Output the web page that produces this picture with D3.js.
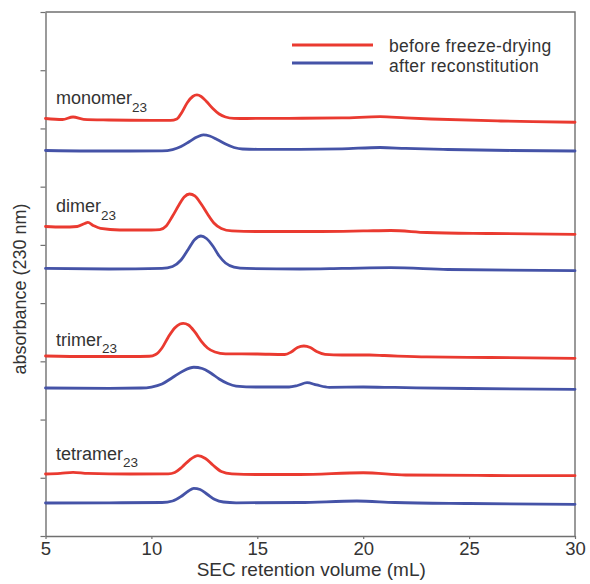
<!DOCTYPE html>
<html>
<head>
<meta charset="utf-8">
<script src="https://cdn.jsdelivr.net/npm/d3@7"></script>
<style>
  html, body { margin: 0; padding: 0; background: #fff; }
  svg { display: block; font-family: "Liberation Sans", Arial, Helvetica, sans-serif; }
</style>
</head>
<body>
<svg id="chart" width="590" height="584"></svg>
<script>
// SEC chromatograms (absorbance at 230 nm, traces offset vertically),
// each sample before freeze-drying and after reconstitution.
// Points are [retention volume (mL), absorbance offset (a.u.)].

const monomerBefore = [
  [5, 7.171], [5.8, 7.154], [6.3, 7.197], [6.8, 7.157], [8, 7.145], [10, 7.137],
  [10.9, 7.137], [11.2, 7.162], [11.45, 7.283], [11.7, 7.446], [11.95, 7.549],
  [12.15, 7.575], [12.35, 7.549], [12.6, 7.463], [12.9, 7.343], [13.2, 7.248],
  [13.5, 7.197], [13.9, 7.174], [14.5, 7.171], [16.5, 7.174], [19, 7.180],
  [20.8, 7.202], [22, 7.180], [23.2, 7.162], [26.5, 7.128], [28, 7.116], [30, 7.106]
];
const monomerAfter = [
  [5, 6.621], [7, 6.613], [9, 6.613], [10.5, 6.616], [11.0, 6.638], [11.4, 6.690],
  [11.8, 6.776], [12.15, 6.853], [12.45, 6.888], [12.75, 6.870], [13.1, 6.810],
  [13.5, 6.733], [13.9, 6.673], [14.3, 6.647], [15, 6.642], [17, 6.642],
  [19, 6.650], [20.8, 6.673], [22, 6.656], [24, 6.638], [27, 6.621], [30, 6.613]
];
const dimerBefore = [
  [5, 5.316], [5.8, 5.307], [6.5, 5.316], [6.85, 5.368], [7.0, 5.385], [7.25, 5.333],
  [7.6, 5.282], [8.5, 5.256], [10, 5.256], [10.4, 5.264], [10.7, 5.325], [11.0, 5.496],
  [11.3, 5.685], [11.55, 5.823], [11.8, 5.874], [12.05, 5.840], [12.35, 5.702],
  [12.65, 5.531], [12.95, 5.376], [13.3, 5.282], [13.8, 5.239], [15, 5.230],
  [18, 5.230], [20, 5.239], [21.3, 5.247], [23, 5.213], [26, 5.196], [30, 5.182]
];
const dimerAfter = [
  [5, 4.595], [8, 4.586], [10.5, 4.595], [11.0, 4.629], [11.4, 4.741], [11.75, 4.930],
  [12.05, 5.093], [12.34, 5.153], [12.6, 5.110], [12.9, 4.981], [13.2, 4.809],
  [13.5, 4.689], [13.9, 4.620], [14.5, 4.595], [17, 4.586], [19, 4.595],
  [21.3, 4.608], [24, 4.577], [30, 4.557]
];
const trimerBefore = [
  [5, 3.092], [7, 3.083], [9, 3.083], [9.9, 3.087], [10.2, 3.117], [10.5, 3.229],
  [10.8, 3.418], [11.1, 3.573], [11.35, 3.641], [11.5, 3.653], [11.75, 3.624],
  [12.05, 3.504], [12.35, 3.349], [12.65, 3.229], [13.0, 3.160], [13.5, 3.129],
  [15, 3.126], [16.3, 3.117], [16.6, 3.160], [16.9, 3.238], [17.2, 3.263],
  [17.5, 3.238], [17.8, 3.169], [18.2, 3.121], [19, 3.109], [20.3, 3.109],
  [21, 3.100], [23, 3.075], [26, 3.066], [30, 3.052]
];
const trimerAfter = [
  [5, 2.542], [8, 2.537], [9.5, 2.542], [10.0, 2.559], [10.5, 2.611], [11.0, 2.722],
  [11.5, 2.834], [12.0, 2.898], [12.4, 2.877], [12.8, 2.800], [13.2, 2.697],
  [13.6, 2.619], [14.0, 2.576], [15, 2.559], [16.5, 2.559], [16.9, 2.585],
  [17.35, 2.633], [17.8, 2.594], [18.4, 2.554], [20, 2.559], [21.5, 2.551],
  [25, 2.533], [30, 2.520]
];
const tetramerBefore = [
  [5, 1.065], [5.7, 1.074], [6.3, 1.094], [7, 1.074], [9, 1.065], [10.8, 1.068],
  [11.1, 1.091], [11.45, 1.185], [11.8, 1.305], [12.2, 1.379], [12.55, 1.331],
  [12.9, 1.219], [13.3, 1.108], [13.8, 1.068], [15, 1.056], [17, 1.056],
  [20, 1.086], [22, 1.048], [26, 1.039], [30, 1.036]
];
const tetramerAfter = [
  [5, 0.567], [8, 0.570], [10.5, 0.575], [11.0, 0.601], [11.4, 0.678], [11.75, 0.773],
  [12.0, 0.819], [12.3, 0.799], [12.65, 0.713], [13.0, 0.627], [13.4, 0.584],
  [14, 0.570], [17, 0.575], [19.7, 0.601], [21.5, 0.575], [25, 0.558], [30, 0.544]
];

const sampleNames = ["monomer", "dimer", "trimer", "tetramer"];
const sampleSubscript = "23";
const beforeTraces = [monomerBefore, dimerBefore, trimerBefore, tetramerBefore];
const afterTraces = [monomerAfter, dimerAfter, trimerAfter, tetramerAfter];
const legendLabels = ["before freeze-drying", "after reconstitution"];

const xTicks = [5, 10, 15, 20, 25, 30];
const yTicks = [0, 1, 2, 3, 4, 5, 6, 7, 8, 9];
const xTitle = "SEC retention volume (mL)";
const yTitle = "absorbance (230 nm)";

// ---- layout & style ----
const plot = { left: 45.5, right: 575, top: 12, bottom: 536 };
const RED = "#ea3a30", BLUE = "#4553a7";
const TEXT = "#333", AXIS = "#707070";
const FS = 18;
const LINE_W = 2.8;
// label baseline distance above the start of each "before" trace
const labelLift = [14, 14, 10, 14];

const svg = d3.select("#chart");

const x = d3.scaleLinear().domain([5, 30]).range([plot.left, plot.right]);
const y = d3.scaleLinear().domain([0, 9]).range([plot.bottom, plot.top]);

// frame: top and right edges
svg.append("path")
  .attr("d", `M${plot.left},${plot.top}H${plot.right}V${plot.bottom}`)
  .attr("fill", "none").attr("stroke", AXIS).attr("stroke-width", 1.4);

// left axis: ticks only
const gy = svg.append("g")
  .attr("transform", `translate(${plot.left},0)`)
  .call(d3.axisLeft(y).tickValues(yTicks).tickFormat("").tickSize(5).tickSizeOuter(0));
gy.select(".domain").attr("stroke", AXIS).attr("stroke-width", 1.4);
gy.selectAll(".tick line").attr("stroke", AXIS).attr("stroke-width", 1.2);

// bottom axis
const gx = svg.append("g")
  .attr("transform", `translate(0,${plot.bottom})`)
  .call(d3.axisBottom(x).tickValues(xTicks).tickFormat(d3.format("d")).tickSize(3).tickPadding(3).tickSizeOuter(0));
gx.select(".domain").attr("stroke", AXIS).attr("stroke-width", 1.4);
gx.selectAll(".tick line").attr("stroke", AXIS).attr("stroke-width", 1.2);
gx.selectAll(".tick text")
  .attr("fill", TEXT).attr("font-size", 18.5)
  .attr("font-family", "'Liberation Sans', Arial, Helvetica, sans-serif");

// traces
const line = d3.line()
  .x(d => x(d[0]))
  .y(d => y(d[1]))
  .curve(d3.curveMonotoneX);

const traces = svg.append("g")
  .attr("fill", "none")
  .attr("stroke-width", LINE_W)
  .attr("stroke-linejoin", "round")
  .attr("stroke-linecap", "round");
afterTraces.forEach(tr => {
  traces.append("path").datum(tr).attr("d", line).attr("stroke", BLUE);
});
beforeTraces.forEach(tr => {
  traces.append("path").datum(tr).attr("d", line).attr("stroke", RED);
});

// sample labels with subscript
sampleNames.forEach((name, i) => {
  const base = y(beforeTraces[i][0][1]) - labelLift[i];
  const t = svg.append("text")
    .attr("x", 56).attr("y", base)
    .attr("fill", TEXT).attr("font-size", FS);
  t.append("tspan").text(name);
  t.append("tspan").attr("font-size", 13.5).attr("dy", 7.5).text(sampleSubscript);
});

// legend: swatch + caption per row
const legend = svg.append("g");
const legendFS = 17.5;
const legendRow = 19.6;
[RED, BLUE].forEach((c, i) => {
  const ly = 45 + i * 18;
  legend.append("line")
    .attr("x1", 292).attr("x2", 373).attr("y1", ly).attr("y2", ly)
    .attr("stroke", c).attr("stroke-width", LINE_W);
  legend.append("text")
    .attr("x", 389).attr("y", 52 + i * legendRow)
    .attr("fill", TEXT).attr("font-size", legendFS)
    .attr("letter-spacing", 0.3)
    .text(legendLabels[i]);
});

// axis titles
svg.append("text")
  .attr("x", (plot.left + plot.right) / 2 + 1).attr("y", 576)
  .attr("text-anchor", "middle").attr("fill", TEXT).attr("font-size", 19)
  .text(xTitle);
svg.append("text")
  .attr("transform", "translate(26,289) rotate(-90)")
  .attr("text-anchor", "middle").attr("fill", TEXT).attr("font-size", FS)
  .text(yTitle);
</script>
</body>
</html>
